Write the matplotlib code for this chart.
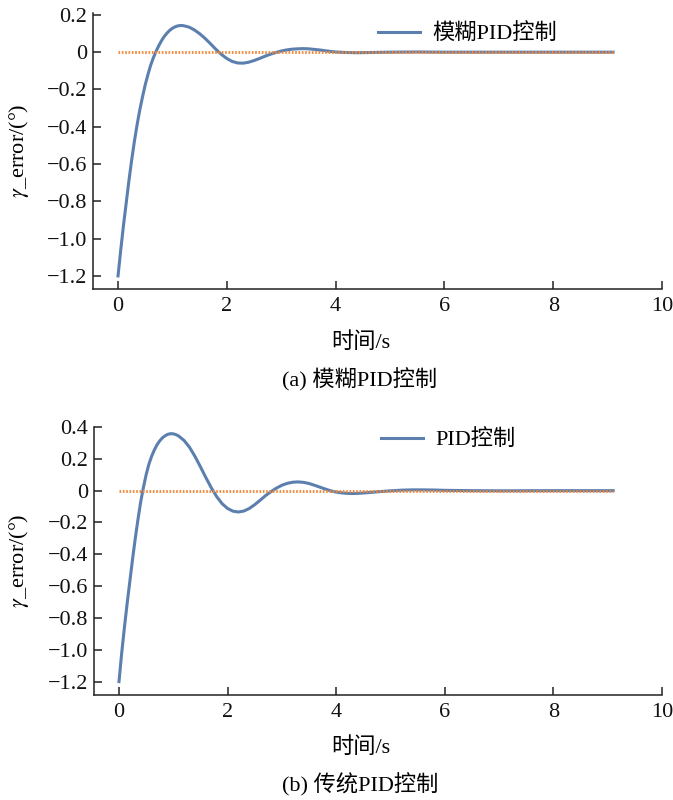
import numpy as np
import matplotlib
matplotlib.use("Agg")
import matplotlib.pyplot as plt
from matplotlib.lines import Line2D

# Fonts: Times-like serif for Latin text, CJK fallback for Chinese
plt.rcParams['font.family'] = ['Liberation Serif', 'Noto Sans CJK SC', 'DejaVu Sans']
plt.rcParams['mathtext.fontset'] = 'stix'
plt.rcParams['axes.unicode_minus'] = True

# --- data ---
# (a) fuzzy PID
t_fuzzy = [0.00, 0.05, 0.10, 0.15, 0.20, 0.25, 0.30, 0.35, 0.40, 0.45,
           0.50, 0.55, 0.60, 0.65, 0.70, 0.75, 0.80, 0.85, 0.90, 0.95,
           1.00, 1.05, 1.10, 1.15, 1.20, 1.30, 1.40, 1.50, 1.60, 1.70,
           1.80, 1.90, 2.00, 2.10, 2.20, 2.30, 2.40, 2.50, 2.60, 2.70,
           2.80, 2.90, 3.00, 3.10, 3.20, 3.30, 3.40, 3.50, 3.60, 3.70,
           3.80, 3.90, 4.00, 4.20, 4.40, 4.60, 4.80, 5.00, 5.50, 6.00,
           7.00, 8.00, 9.10]
e_fuzzy = [-1.20, -1.06, -0.93, -0.81, -0.69, -0.58, -0.48, -0.39, -0.31, -0.24,
           -0.175, -0.12, -0.07, -0.03, 0.005, 0.035, 0.062, 0.084, 0.102, 0.117,
           0.128, 0.136, 0.141, 0.143, 0.142, 0.135, 0.120, 0.099, 0.074, 0.045,
           0.015, -0.012, -0.034, -0.050, -0.058, -0.059, -0.054, -0.045, -0.034, -0.022,
           -0.011, -0.002, 0.006, 0.012, 0.016, 0.018, 0.019, 0.018, 0.015, 0.012,
           0.008, 0.004, 0.001, -0.002, -0.003, -0.002, -0.001, 0.000, 0.001, 0.000,
           0.000, 0.000, 0.000]

# (b) classic PID
t_pid = [0.00, 0.05, 0.10, 0.15, 0.20, 0.25, 0.30, 0.35, 0.40, 0.45,
         0.50, 0.55, 0.60, 0.65, 0.70, 0.75, 0.80, 0.85, 0.90, 0.95,
         1.00, 1.05, 1.10, 1.20, 1.30, 1.40, 1.50, 1.60, 1.70, 1.80,
         1.90, 2.00, 2.10, 2.20, 2.30, 2.40, 2.50, 2.60, 2.70, 2.80,
         2.90, 3.00, 3.10, 3.20, 3.30, 3.40, 3.50, 3.60, 3.70, 3.80,
         3.90, 4.00, 4.10, 4.20, 4.30, 4.40, 4.60, 4.80, 5.00, 5.20,
         5.40, 5.60, 5.80, 6.00, 6.50, 7.00, 8.00, 9.10]
e_pid = [-1.20, -1.02, -0.86, -0.71, -0.57, -0.43, -0.30, -0.18, -0.07, 0.02,
         0.10, 0.165, 0.215, 0.255, 0.288, 0.313, 0.332, 0.345, 0.354, 0.358,
         0.357, 0.352, 0.343, 0.315, 0.272, 0.215, 0.150, 0.082, 0.018, -0.038,
         -0.082, -0.112, -0.129, -0.134, -0.128, -0.112, -0.088, -0.060, -0.031, -0.006,
         0.016, 0.034, 0.046, 0.053, 0.055, 0.052, 0.045, 0.034, 0.022, 0.010,
         -0.001, -0.009, -0.014, -0.017, -0.018, -0.017, -0.012, -0.006, -0.001, 0.003,
         0.005, 0.005, 0.004, 0.002, 0.000, -0.001, 0.000, 0.000]

# reference (zero) line
t_ref = [0.0, 9.10]
e_ref = [0.0, 0.0]

xticks = [0, 2, 4, 6, 8, 10]
yticks_a = [0.2, 0, -0.2, -0.4, -0.6, -0.8, -1.0, -1.2]
ylabels_a = ['0.2', '0', '\u22120.2', '\u22120.4', '\u22120.6', '\u22120.8', '\u22121.0', '\u22121.2']
yticks_b = [0.4, 0.2, 0, -0.2, -0.4, -0.6, -0.8, -1.0, -1.2]
ylabels_b = ['0.4', '0.2', '0', '\u22120.2', '\u22120.4', '\u22120.6', '\u22120.8', '\u22121.0', '\u22121.2']

legend_a = '模糊PID控制'
legend_b = 'PID控制'
caption_a = '(a) 模糊PID控制'
caption_b = '(b) 传统PID控制'

BLUE = '#5b7fae'
ORANGE = '#f0883a'
FS = 16

W, H = 673, 800
fig = plt.figure(figsize=(W / 100, H / 100), dpi=100)


def make_axes(left, top, right, bottom):
    # pixel box -> figure fraction
    return fig.add_axes([left / W, 1 - bottom / H, (right - left) / W, (bottom - top) / H])


def style(ax, yticks, ylabels, ylim):
    ax.set_xlim(-0.46, 10)
    ax.set_ylim(*ylim)
    ax.spines['top'].set_visible(False)
    ax.spines['right'].set_visible(False)
    for s in ['left', 'bottom']:
        ax.spines[s].set_linewidth(1.1)
        ax.spines[s].set_color('#222222')
    ax.set_xticks(xticks)
    ax.set_xticklabels([str(v) for v in xticks])
    ax.set_yticks(yticks)
    ax.set_yticklabels(ylabels)
    ax.tick_params(direction='in', length=5.5, width=1.1, color='#222222',
                   labelsize=FS, labelcolor='#111111')
    ax.tick_params(axis='x', pad=6)
    ax.tick_params(axis='y', pad=4)


def ref_line(ax):
    # dense orange dotted zero line, drawn on top of the error curve
    ln, = ax.plot(t_ref, e_ref, color=ORANGE, linewidth=2.0, zorder=3)
    ln.set_dashes([0.6, 0.6])


# --- top plot: fuzzy PID ---
ax1 = make_axes(93, 13, 662, 289)
ax1.plot(t_fuzzy, e_fuzzy, color=BLUE, linewidth=2.2, zorder=2)
ref_line(ax1)
style(ax1, yticks_a, ylabels_a, (-1.27, 0.21))
h1 = Line2D([], [], color=BLUE, linewidth=2.2)
ax1.legend([h1], [legend_a], loc='center left', bbox_to_anchor=(0.501, 0.925),
           frameon=False, fontsize=FS, borderpad=0, borderaxespad=0,
           handlelength=1.9, handletextpad=0.55)

# --- bottom plot: classic PID ---
ax2 = make_axes(94, 427, 662, 695)
ax2.plot(t_pid, e_pid, color=BLUE, linewidth=2.2, zorder=2)
ref_line(ax2)
style(ax2, yticks_b, ylabels_b, (-1.284, 0.4))
h2 = Line2D([], [], color=BLUE, linewidth=2.2)
ax2.legend([h2], [legend_b], loc='center left', bbox_to_anchor=(0.505, 0.952),
           frameon=False, fontsize=FS, borderpad=0, borderaxespad=0,
           handlelength=1.9, handletextpad=0.55)

# axis labels and captions (placed in pixels)
ylab = '$\\gamma$_error/(°)'
for yc in [151, 561]:
    fig.text(19 / W, 1 - yc / H, ylab, rotation=90, ha='center', va='center', fontsize=FS)
for yc in [343, 748]:
    fig.text(361 / W, 1 - yc / H, '时间/s', ha='center', va='center', fontsize=FS)
fig.text(360 / W, 1 - 380 / H, caption_a, ha='center', va='center', fontsize=FS)
fig.text(360 / W, 1 - 785 / H, caption_b, ha='center', va='center', fontsize=FS)

fig.savefig('out.png', dpi=100)
